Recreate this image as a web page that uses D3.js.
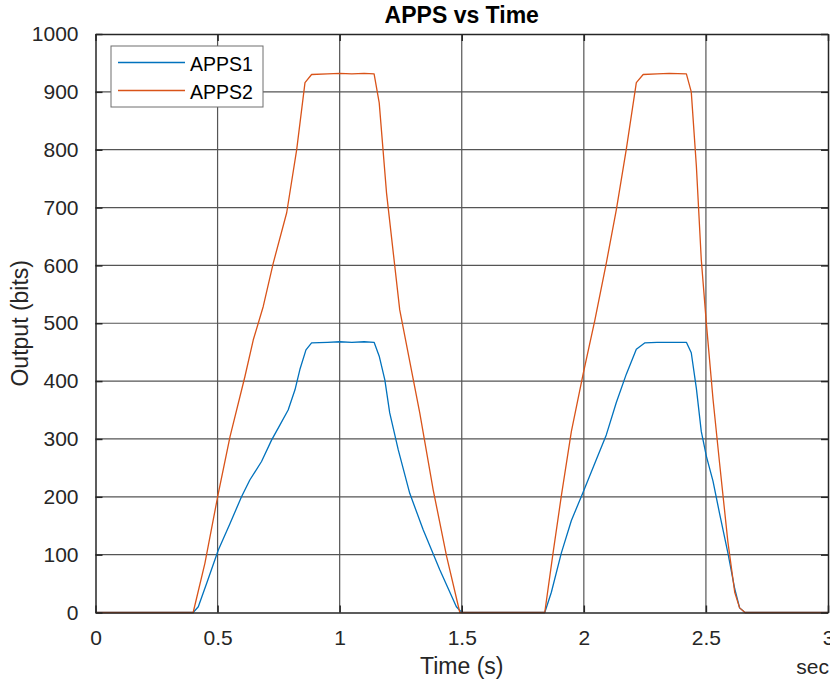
<!DOCTYPE html>
<html>
<head>
<meta charset="utf-8">
<script src="https://cdn.jsdelivr.net/npm/d3@7"></script>
<style>
  html, body { margin: 0; padding: 0; background: #fff; }
  svg { display: block; font-family: "Liberation Sans", Arial, Helvetica, sans-serif; }
</style>
</head>
<body>
<svg id="chart" width="830" height="683"></svg>
<script>
// Accelerator pedal position sensor outputs over time
const apps1Time = [0, 0.40, 0.421, 0.455, 0.503, 0.551, 0.598, 0.632, 0.680, 0.721, 0.755, 0.789, 0.817, 0.837, 0.862, 0.885,
  0.95, 1.0, 1.05, 1.1, 1.141, 1.162, 1.185, 1.205, 1.24, 1.287, 1.342, 1.41, 1.478, 1.50,
  1.84, 1.867, 1.908, 1.949, 1.997, 2.045, 2.092, 2.133, 2.174, 2.215, 2.249, 2.3, 2.35, 2.42,
  2.44, 2.461, 2.481, 2.502, 2.529, 2.556, 2.59, 2.618, 2.638, 2.66, 3.0];
const apps1Values = [0, 0, 10, 50, 108, 154, 200, 229, 261, 298, 324, 350, 385, 420, 454, 466,
  467, 468, 467, 468, 467, 443, 402, 345, 281, 206, 143, 74, 10, 0,
  0, 35, 103, 159, 208, 258, 307, 363, 412, 455, 466, 467, 467, 467,
  449, 387, 313, 270, 227, 171, 103, 41, 8, 0, 0];

const apps2Time = [0, 0.40, 0.448, 0.503, 0.551, 0.612, 0.646, 0.687, 0.728, 0.783, 0.824, 0.858, 0.885,
  0.95, 1.0, 1.05, 1.1, 1.141, 1.162, 1.192, 1.246, 1.328, 1.383, 1.438, 1.492,
  1.84, 1.874, 1.908, 1.949, 1.997, 2.045, 2.092, 2.133, 2.174, 2.215, 2.243, 2.3, 2.35, 2.42,
  2.44, 2.461, 2.481, 2.502, 2.529, 2.556, 2.59, 2.618, 2.638, 2.66, 3.0];
const apps2Values = [0, 0, 85, 206, 304, 408, 471, 529, 604, 691, 800, 916, 930,
  931, 932, 931, 932, 931, 881, 725, 523, 345, 212, 97, 0,
  0, 103, 202, 313, 412, 505, 604, 696, 801, 916, 930, 931, 932, 931,
  900, 771, 610, 499, 369, 258, 122, 35, 8, 0, 0];

const seriesNames = ["APPS1", "APPS2"];
const seriesColors = ["#0072BD", "#D95319"];
const xTicks = [0, 0.5, 1, 1.5, 2, 2.5, 3];
const yTicks = [0, 100, 200, 300, 400, 500, 600, 700, 800, 900, 1000];

const chartTitle = "APPS vs Time";
const xLabel = "Time (s)";
const yLabel = "Output (bits)";
const xUnit = "sec";

const series = [
  { name: seriesNames[0], color: seriesColors[0], pts: apps1Time.map((t, i) => [t, apps1Values[i]]) },
  { name: seriesNames[1], color: seriesColors[1], pts: apps2Time.map((t, i) => [t, apps2Values[i]]) }
];

const svg = d3.select("#chart");
const m = { left: 95.5, right: 828, top: 34, bottom: 612.5 };
const x = d3.scaleLinear().domain([0, 3]).range([m.left, m.right]);
const y = d3.scaleLinear().domain([0, 1000]).range([m.bottom, m.top]);

const axisColor = "#262626";
const gridColor = "#555555";

// grid
const grid = svg.append("g");
grid.selectAll("line.gx").data(xTicks.slice(1, -1)).join("line")
  .attr("x1", d => x(d)).attr("x2", d => x(d))
  .attr("y1", m.top).attr("y2", m.bottom)
  .attr("stroke", gridColor).attr("stroke-width", 1.2);
grid.selectAll("line.gy").data(yTicks.slice(1, -1)).join("line")
  .attr("x1", m.left).attr("x2", m.right)
  .attr("y1", d => y(d)).attr("y2", d => y(d))
  .attr("stroke", gridColor).attr("stroke-width", 1.2);

// data lines
const line = d3.line().x(d => x(d[0])).y(d => y(d[1]));
svg.append("g").selectAll("path").data(series).join("path")
  .attr("d", d => line(d.pts))
  .attr("fill", "none")
  .attr("stroke", d => d.color)
  .attr("stroke-width", 1.3)
  .attr("stroke-linejoin", "round");

// axes: bottom/left with labels, top/right as box edges, all ticks inward
const tickLen = 7;
const fs = 21;
const bottomAxis = d3.axisBottom(x).tickValues(xTicks).tickSizeInner(-tickLen).tickSizeOuter(0)
  .tickPadding(tickLen + 11).tickFormat(d3.format("~g"));
const leftAxis = d3.axisLeft(y).tickValues(yTicks).tickSizeInner(-tickLen).tickSizeOuter(0)
  .tickPadding(tickLen + 10).tickFormat(d3.format("d"));
const topAxis = d3.axisTop(x).tickValues(xTicks).tickSizeInner(-tickLen).tickSizeOuter(0).tickFormat("");
const rightAxis = d3.axisRight(y).tickValues(yTicks).tickSizeInner(-tickLen).tickSizeOuter(0).tickFormat("");

function styleAxis(g) {
  g.select(".domain").attr("stroke", axisColor).attr("stroke-width", 1.5);
  g.selectAll(".tick line").attr("stroke", axisColor).attr("stroke-width", 1.5);
  g.selectAll(".tick text").attr("fill", axisColor).attr("font-size", fs)
    .attr("font-family", "Liberation Sans, Arial, sans-serif");
}
svg.append("g").attr("transform", `translate(0,${m.top})`).call(topAxis).call(styleAxis);
svg.append("g").attr("transform", `translate(${m.right},0)`).call(rightAxis).call(styleAxis);
svg.append("g").attr("transform", `translate(0,${m.bottom})`).call(bottomAxis).call(styleAxis);
svg.append("g").attr("transform", `translate(${m.left},0)`).call(leftAxis).call(styleAxis);

// title and labels
svg.append("text").attr("x", (m.left + m.right) / 2).attr("y", 23)
  .attr("text-anchor", "middle").attr("font-weight", "bold").attr("font-size", 23)
  .attr("fill", "#000").text(chartTitle);
svg.append("text").attr("x", (m.left + m.right) / 2).attr("y", 674)
  .attr("text-anchor", "middle").attr("font-size", 23).attr("fill", axisColor).text(xLabel);
svg.append("text").attr("transform", `translate(28,${(m.top + m.bottom) / 2}) rotate(-90)`)
  .attr("text-anchor", "middle").attr("font-size", 23).attr("fill", axisColor).text(yLabel);
svg.append("text").attr("x", 829).attr("y", 674)
  .attr("text-anchor", "end").attr("font-size", fs).attr("fill", axisColor).text(xUnit);

// legend
const lg = svg.append("g");
lg.append("rect").attr("x", 111).attr("y", 46).attr("width", 152).attr("height", 61)
  .attr("fill", "#fff").attr("stroke", "#6e6e6e").attr("stroke-width", 1);
series.forEach((s, i) => {
  const ly = 62.5 + i * 28;
  lg.append("line").attr("x1", 118).attr("x2", 185).attr("y1", ly).attr("y2", ly)
    .attr("stroke", s.color).attr("stroke-width", 1.3);
  lg.append("text").attr("x", 190).attr("y", ly + 8.5).attr("font-size", 19.5)
    .attr("fill", "#000").text(s.name);
});
</script>
</body>
</html>
